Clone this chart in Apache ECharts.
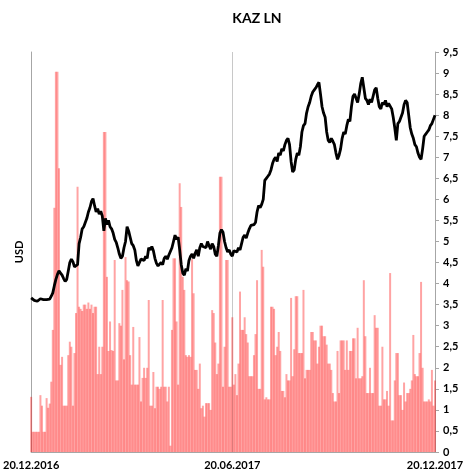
<!DOCTYPE html>
<html>
<head>
<meta charset="utf-8">
<script src="https://cdn.jsdelivr.net/npm/echarts@6/dist/echarts.min.js"></script>
<style>html,body{margin:0;padding:0;background:#fff}#c{width:467px;height:474px}</style>
</head>
<body>
<div id="c"></div>
<script>
// ---- data ----
var titleText = 'KAZ LN';
var axisName = 'USD';
var startDate = '2016-12-20';
var endDate = '2017-12-20';
var labelDates = ['20.12.2016', '20.06.2017', '20.12.2017'];
var yMin = 0, yMax = 9.5, yStep = 0.5;

// closing price, one per trading day
var price = [
3.66,3.62,3.60,3.63,3.58,3.61,3.64,3.60,3.62,3.59,
3.62,3.65,3.63,3.70,3.78,3.95,4.10,4.22,4.30,4.25,
4.20,4.12,4.05,4.10,4.30,4.50,4.58,4.52,4.40,4.42,
4.45,4.95,5.10,5.30,5.35,5.45,5.55,5.70,5.80,5.95,
6.02,5.85,5.70,5.78,5.65,5.72,5.60,5.25,5.55,5.40,
5.50,5.35,5.30,5.20,5.05,4.98,4.85,4.70,4.60,4.65,
4.85,5.00,5.35,5.25,5.10,4.95,4.90,4.80,4.55,4.42,
4.45,4.58,4.62,4.55,4.65,4.60,4.85,4.80,4.88,4.78,
4.60,4.48,4.42,4.38,4.50,4.45,4.60,4.65,4.58,4.68,
4.70,4.85,5.00,5.15,5.05,5.10,4.80,4.45,4.25,4.20,
4.35,4.30,4.55,4.65,4.70,4.60,4.72,4.80,4.65,4.85,
4.95,4.88,4.92,4.85,5.00,4.90,4.82,4.95,4.88,4.70,
4.65,4.90,5.20,5.28,5.22,5.00,4.85,4.75,4.80,4.70,
4.65,4.78,4.82,4.75,4.85,4.80,4.95,5.10,5.15,5.08,
5.20,5.30,5.38,5.35,5.40,5.45,5.70,5.85,5.80,5.88,
6.00,6.45,6.50,6.55,6.60,6.70,6.85,6.95,7.00,6.90,
7.10,7.05,7.20,7.15,7.30,7.40,7.45,7.30,6.90,6.65,
6.70,6.95,7.10,7.05,7.25,7.60,7.75,7.80,8.05,8.20,
8.30,8.45,8.55,8.60,8.65,8.72,8.78,8.50,8.20,8.05,
7.95,7.60,7.40,7.35,7.45,7.38,7.30,7.10,6.95,7.05,
7.20,7.45,7.60,7.55,7.75,7.90,7.85,8.20,8.45,8.50,
8.40,8.30,8.50,8.75,8.90,8.65,8.40,8.35,8.25,8.38,
8.30,8.45,8.60,8.65,8.40,8.20,8.15,8.30,8.25,8.35,
8.20,8.28,8.30,8.15,7.95,7.70,7.40,7.80,7.85,7.95,
8.05,8.25,8.35,8.30,8.00,7.70,7.55,7.45,7.30,7.25,
7.10,7.00,6.95,7.20,7.50,7.55,7.60,7.65,7.75,7.80,
7.90,8.00
];

// traded volume (scaled to the same 0–9.5 frame), one per trading day
var volume = [
1.31,0.48,0.48,0.48,0.48,0.48,1.35,1.10,0.48,0.48,
1.28,1.05,1.15,1.67,2.90,5.80,9.03,9.03,6.74,2.07,
2.26,1.10,1.10,1.10,2.30,2.62,2.50,1.10,2.35,3.30,
6.30,3.45,3.40,3.35,3.50,3.50,3.40,3.55,3.40,3.50,
3.30,3.45,3.45,1.85,2.50,1.85,2.50,7.60,7.60,4.16,
2.40,3.10,2.42,2.40,4.56,1.70,1.70,3.06,3.00,3.85,
2.20,4.63,4.08,4.05,2.30,1.60,2.97,1.60,1.60,1.60,
2.73,1.20,1.76,2.00,1.76,2.00,3.61,1.10,1.10,1.90,
1.04,1.55,1.55,1.50,1.55,3.61,1.55,1.55,1.20,1.55,
0.15,2.90,4.60,4.60,3.10,1.60,6.38,5.82,4.16,3.85,
2.30,2.26,2.30,2.26,4.58,3.77,1.95,1.95,1.50,2.10,
1.04,1.10,0.84,1.16,1.16,1.16,1.00,3.37,3.30,2.60,
1.85,2.10,6.54,6.54,1.55,2.50,4.56,4.56,1.55,1.55,
3.20,1.60,1.85,1.35,2.10,3.81,2.90,2.90,3.20,2.80,
2.60,1.80,1.80,1.80,2.30,2.80,4.08,1.50,1.50,4.80,
4.40,1.25,1.30,1.25,1.25,3.45,3.45,3.40,2.30,2.50,
2.85,2.40,1.45,1.45,1.30,1.85,1.70,1.70,3.66,1.80,
2.44,3.70,3.70,2.35,2.35,2.35,3.85,1.75,1.95,1.95,
1.95,2.85,2.85,2.65,2.65,2.10,2.50,3.00,3.00,2.75,
2.75,2.55,2.10,2.10,1.95,1.40,1.20,1.20,2.40,1.40,
2.65,2.65,2.65,1.95,2.65,1.95,2.40,2.40,2.70,2.70,
1.75,2.95,1.75,1.75,1.80,4.08,2.75,1.40,1.40,2.00,
1.40,1.40,3.25,2.95,2.95,1.10,1.10,2.50,1.25,1.25,
1.45,1.10,4.25,0.75,0.75,1.70,2.35,2.35,1.35,1.35,
1.00,1.65,1.20,1.40,1.40,1.50,1.70,2.78,1.85,1.80,
1.80,2.35,4.04,2.00,1.20,1.20,1.20,1.25,1.20,1.95,
1.10,1.70
];

// ---- trading-day categories (weekdays between start and end) ----
function pad(n){return (n<10?'0':'')+n;}
var dates = [];
(function(){
  var d = new Date(startDate + 'T12:00:00Z');
  var e = new Date(endDate + 'T12:00:00Z');
  while (d <= e) {
    var wd = d.getUTCDay();
    if (wd !== 0 && wd !== 6) {
      dates.push(pad(d.getUTCDate()) + '.' + pad(d.getUTCMonth()+1) + '.' + d.getUTCFullYear());
    }
    d = new Date(d.getTime() + 86400000);
  }
})();

var FONT = 'Lato, "Open Sans", sans-serif';
var chart = echarts.init(document.getElementById('c'), null, {renderer:'canvas'});
chart.setOption({
  animation: false,
  backgroundColor: '#ffffff',
  title: {
    text: titleText,
    left: 252,
    textAlign: 'center',
    top: 6,
    textStyle: {fontFamily: FONT, fontSize: 14, fontWeight: 'bold', color: '#000'}
  },
  grid: {left: 31, right: 32, top: 52, bottom: 22, containLabel: false},
  xAxis: {
    type: 'category',
    data: dates,
    boundaryGap: false,
    axisLine: {show: true, lineStyle: {color: '#a6a6a6', width: 1}},
    axisTick: {show: false},
    axisLabel: {
      interval: function (i, v) { return labelDates.indexOf(v) >= 0; },
      margin: 8,
      fontFamily: FONT, fontSize: 11, fontWeight: 'bold', color: '#000'
    },
    splitLine: {
      show: true,
      interval: function (i, v) { return v === labelDates[1]; },
      lineStyle: {color: '#c8c8c8', width: 1}
    }
  },
  yAxis: [
    {
      type: 'value', position: 'right',
      min: yMin, max: yMax, interval: yStep,
      axisLine: {show: true, lineStyle: {color: '#a6a6a6', width: 1}},
      axisTick: {show: true, inside: false, length: 4, lineStyle: {color: '#a6a6a6'}},
      splitLine: {show: false},
      axisLabel: {
        margin: 8,
        fontFamily: FONT, fontSize: 11, fontWeight: 'bold', color: '#000',
        formatter: function (v) { return String(Math.round(v*10)/10).replace('.', ','); }
      }
    },
    {
      type: 'value', position: 'left',
      min: yMin, max: yMax, interval: yStep,
      name: axisName, nameLocation: 'middle', nameRotate: 90, nameGap: 6,
      nameTextStyle: {fontFamily: FONT, fontSize: 11, fontWeight: 'bold', color: '#000'},
      axisLine: {show: true, lineStyle: {color: '#a6a6a6', width: 1}},
      axisTick: {show: false},
      axisLabel: {show: false},
      splitLine: {show: false}
    }
  ],
  series: [
    {
      type: 'bar', name: 'volume', xAxisIndex: 0, yAxisIndex: 1,
      data: volume, barWidth: 2,
      itemStyle: {color: 'rgba(255,0,0,0.36)'},
      z: 1
    },
    {
      type: 'line', name: 'price', xAxisIndex: 0, yAxisIndex: 0,
      data: price, showSymbol: false, symbol: 'none',
      lineStyle: {color: '#000', width: 2.8, join: 'bevel'},
      z: 3
    }
  ]
});
</script>
</body>
</html>
